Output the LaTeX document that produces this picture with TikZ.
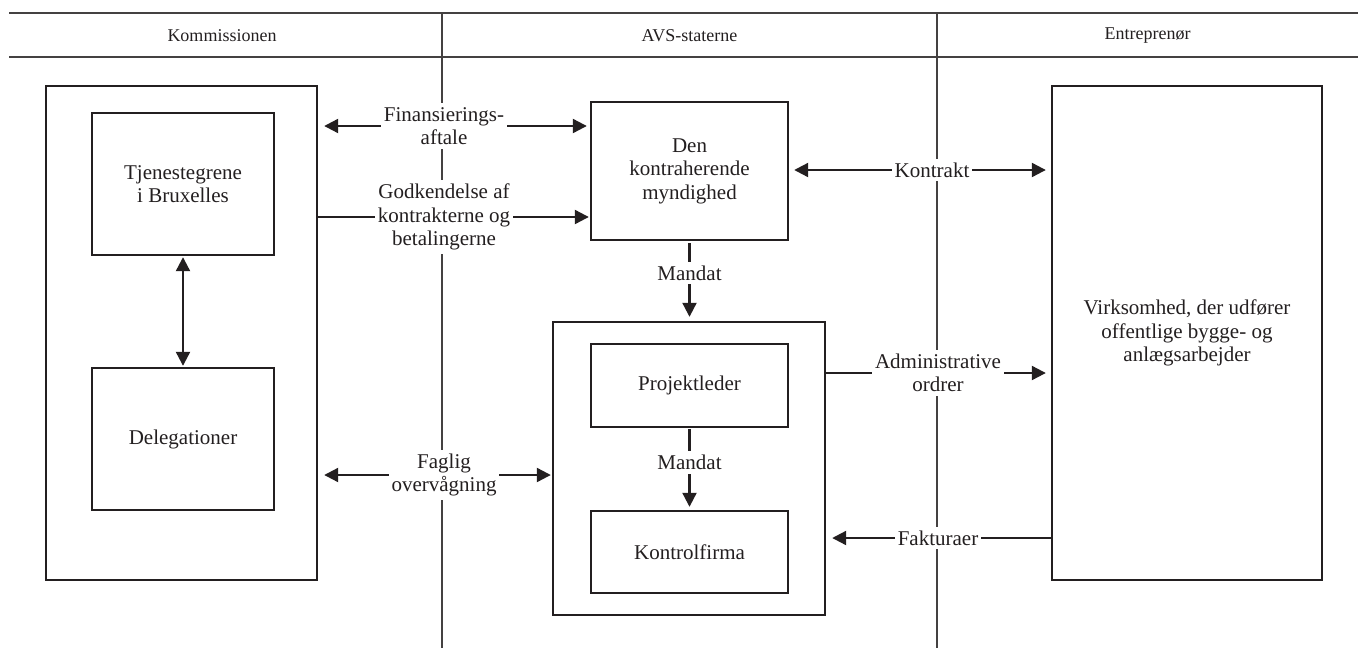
\documentclass[tikz,border=0pt]{standalone}
\usepackage{fontspec}
\setmainfont{Liberation Serif}
\usepackage{tikz}
\usetikzlibrary{arrows.meta, positioning, backgrounds}
\definecolor{inkgray}{HTML}{231F20}
\newcommand{\boxfont}{\fontsize{10.5}{11.8}\selectfont}
\newcommand{\headfont}{\fontsize{9}{11}\selectfont}
\tikzset{
    orgbox/.style={draw=inkgray, line width=1.2pt, align=center, font=\boxfont, text=inkgray, inner sep=0pt},
    lbl/.style={fill=white, align=center, font=\boxfont, text=inkgray, inner xsep=1.5pt, inner ysep=2pt},
    head/.style={font=\headfont, text=inkgray},
    divider/.style={draw=inkgray!85, line width=0.8pt},
    conn/.style={draw=inkgray, line width=1.1pt, -{Triangle[length=7pt, width=7pt]}},
    biconn/.style={draw=inkgray, line width=1.1pt, {Triangle[length=7pt, width=7pt]}-{Triangle[length=7pt, width=7pt]}},
}

\begin{document}
\begin{tikzpicture}[x=0.5pt, y=-0.5pt]
    \useasboundingbox (0,0) rectangle (1358,648);

    \node[head] (hkom) at (222,36) {Kommissionen};
    \node[head] (havs) at (689.5,36) {AVS-staterne};
    \node[head] (hent) at (1147.5,36) {Entreprenør};

    \node[orgbox, minimum width=135.5pt, minimum height=247pt] (kom) at (181.5,333) {};
    \node[orgbox, minimum width=91pt, minimum height=71pt] (tjen) at (183,184) {Tjenestegrene\\i Bruxelles};
    \node[orgbox, minimum width=91pt, minimum height=71pt] (deleg) at (183,439) {Delegationer};

    \node[orgbox, minimum width=98.5pt, minimum height=69pt] (myn) at (689.5,171) {Den\\kontraherende\\myndighed};
    \node[orgbox, minimum width=136pt, minimum height=146.5pt] (avs) at (689,468.5) {};
    \node[orgbox, minimum width=98.5pt, minimum height=41.5pt] (projl) at (689.5,385.5) {Projektleder};
    \node[orgbox, minimum width=98.5pt, minimum height=41pt] (kontrol) at (689.5,552) {Kontrolfirma};

    \node[orgbox, minimum width=135pt, minimum height=247pt] (virk) at (1187,333) {Virksomhed, der udfører\\offentlige bygge- og\\anlægsarbejder};

    \node[lbl] (fin) at (444,126) {Finansierings-\\aftale};
    \node[lbl] (godk) at (444,217) {Godkendelse af\\kontrakterne og\\betalingerne};
    \node[lbl] (fagl) at (444,475) {Faglig\\overvågning};
    \node[lbl] (kontr) at (932,170) {Kontrakt};
    \node[lbl] (adm) at (938,373) {Administrative\\ordrer};
    \node[lbl] (fakt) at (938,538) {Fakturaer};

    \begin{scope}[on background layer]
        \draw[divider] (9,13) -- (1358,13);
        \draw[divider] (9,57) -- (1358,57);
        \draw[divider] (442,13) -- (442,648);
        \draw[divider] (937,13) -- (937,648);

        \draw[biconn, shorten <=3pt, shorten >=1.5pt] (fin -| kom.east) -- (fin -| myn.west);
        \draw[conn, shorten >=0.5pt] (godk -| kom.east) -- (godk -| myn.west);
        \draw[biconn, shorten <=3pt, shorten >=0.5pt] (fagl -| kom.east) -- (fagl -| avs.west);
        \draw[biconn, shorten <=2.5pt, shorten >=2.5pt] (kontr -| myn.east) -- (kontr -| virk.west);
        \draw[conn, shorten >=2.5pt] (adm -| avs.east) -- (adm -| virk.west);
        \draw[conn, shorten >=3pt] (fakt -| virk.west) -- (fakt -| avs.east);

        \draw[biconn, shorten <=0.5pt, shorten >=0.5pt] (tjen) -- (deleg);
        \draw[conn, shorten <=1pt, shorten >=2pt] (myn.south) -- node[lbl, pos=0.4] {Mandat} (myn.south |- avs.north);
        \draw[conn, shorten <=0.5pt, shorten >=1.5pt] (projl.south) -- node[lbl, pos=0.42] {Mandat} (kontrol.north);
    \end{scope}
\end{tikzpicture}
\end{document}
